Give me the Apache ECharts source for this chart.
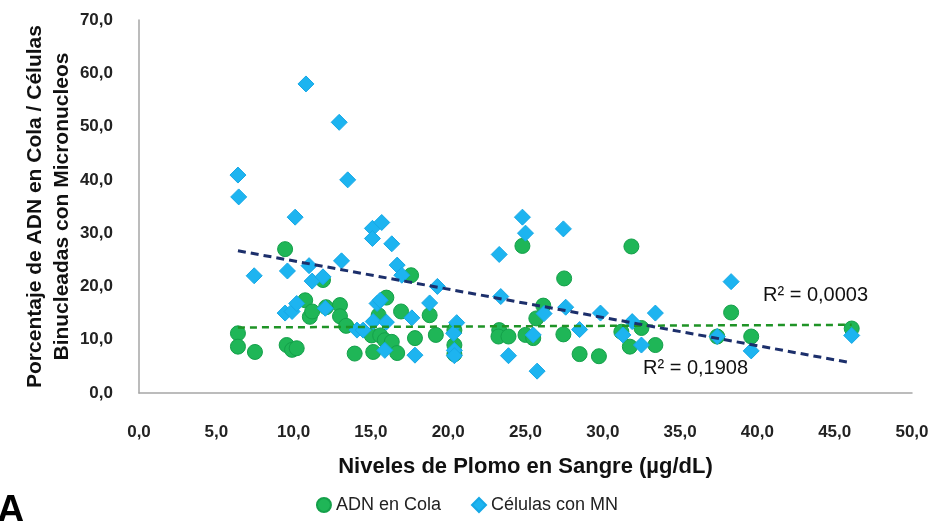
<!DOCTYPE html>
<html>
<head>
<meta charset="utf-8">
<script src="https://cdn.jsdelivr.net/npm/echarts@6/dist/echarts.min.js"></script>
<style>
html,body{margin:0;padding:0;background:#fff;}
#chart{width:934px;height:521px;}
</style>
</head>
<body>
<div id="chart"></div>
<script>
// ADN en Cola: [Pb level, %]
var adnX = [6.4,6.4,7.5,9.45,9.55,9.9,10.2,10.75,11.05,11.2,11.9,12.1,13.0,13.0,13.4,13.95,15.05,15.15,15.5,15.6,15.9,16.0,16.35,16.7,16.95,17.6,17.85,18.8,19.2,20.4,20.4,20.4,23.3,23.25,23.9,24.8,25.0,25.5,25.7,26.15,27.5,27.45,28.5,29.75,31.2,31.75,31.85,32.5,33.4,37.4,38.3,39.6,46.1];
var adnY = [11.2,8.7,7.7,27.0,9.0,8.1,8.4,17.4,14.3,15.3,21.2,16.1,16.5,14.4,12.6,7.4,10.8,7.7,14.6,10.8,9.9,17.9,9.6,7.5,15.3,22.1,10.3,14.6,10.9,11.8,9.0,7.3,11.8,10.6,10.6,27.6,10.9,10.3,14.0,16.4,21.5,11.0,7.3,6.9,11.5,8.7,27.5,12.2,9.0,10.6,15.1,10.6,12.1];
// Células con MN
var mnX = [6.4,6.45,7.45,9.45,9.6,9.9,10.1,10.2,10.8,11.0,11.2,11.9,12.05,12.95,13.1,13.5,14.1,14.5,15.1,15.1,15.15,15.4,15.6,15.7,15.9,16.0,16.35,16.7,17.0,17.65,17.85,18.8,19.3,20.55,20.35,20.4,20.4,23.3,23.4,23.9,24.8,25.0,25.5,25.75,26.2,27.45,27.6,28.5,29.85,31.3,31.9,32.5,33.4,37.4,38.3,39.6,46.1];
var mnY = [40.9,36.8,22.0,15.0,22.9,15.3,33.0,16.8,58.0,23.9,21.0,21.8,15.9,50.8,24.8,40.0,11.8,11.8,30.9,29.0,13.4,16.8,17.4,32.0,8.0,13.3,28.0,24.0,22.1,14.1,7.1,16.9,20.0,13.2,11.2,8.0,7.0,26.0,18.1,7.0,33.0,30.0,10.9,4.1,14.9,30.8,16.1,11.9,15.0,10.9,13.4,9.0,15.0,10.6,20.9,7.9,10.8];
// Trend lines (endpoints)
var trendMnX = [6.4, 46.0];
var trendMnY = [26.7, 5.7];
var trendAdnX = [6.4, 46.1];
var trendAdnY = [12.3, 12.8];
var xTicks = [0,5,10,15,20,25,30,35,40,45,50];
var yTicks = [0,10,20,30,40,50,60,70];
var seriesNames = ['ADN en Cola','Células con MN'];
var r2Labels = ['R² = 0,0003','R² = 0,1908'];

function zip(a,b){return a.map(function(v,i){return [v,b[i]];});}
var FONT = '"Liberation Sans", Arial, sans-serif';
var fmt = function(v){return v.toFixed(1).replace('.',',');};
var chart = echarts.init(document.getElementById('chart'));
chart.setOption({
  animation:false,
  backgroundColor:'#ffffff',
  grid:{left:139,right:22,top:20,bottom:128},
  xAxis:{
    type:'value',min:xTicks[0],max:xTicks[xTicks.length-1],interval:xTicks[1]-xTicks[0],
    axisLine:{show:true,lineStyle:{color:'#a6a6a6',width:1.5}},
    axisTick:{show:false},splitLine:{show:false},
    axisLabel:{margin:31,fontFamily:FONT,fontSize:17,fontWeight:'bold',color:'#222',formatter:fmt},
    name:'Niveles de Plomo en Sangre (µg/dL)',nameLocation:'middle',nameGap:63,nameMoveOverlap:false,
    nameTextStyle:{fontFamily:FONT,fontSize:22,fontWeight:'bold',color:'#111'}
  },
  yAxis:{
    type:'value',min:yTicks[0],max:yTicks[yTicks.length-1],interval:yTicks[1]-yTicks[0],
    axisLine:{show:true,lineStyle:{color:'#a6a6a6',width:1.5}},
    axisTick:{show:false},splitLine:{show:false},
    axisLabel:{margin:26,fontFamily:FONT,fontSize:17,fontWeight:'bold',color:'#222',formatter:fmt},
    name:'Porcentaje de ADN en Cola / Células\nBinucleadas con Micronucleos',nameLocation:'middle',nameGap:63,nameMoveOverlap:false,
    nameTextStyle:{fontFamily:FONT,fontSize:21,fontWeight:'bold',color:'#111',lineHeight:27}
  },
  legend:{
    bottom:2,left:'center',itemGap:30,itemWidth:14,itemHeight:14,
    textStyle:{fontFamily:FONT,fontSize:18,color:'#222'},
    data:[{name:seriesNames[0],icon:'circle'},{name:seriesNames[1],icon:'diamond'}]
  },
  series:[
    {name:seriesNames[0],type:'scatter',symbol:'circle',symbolSize:15,z:2,
     itemStyle:{color:'#1fb657',borderColor:'#14a04a',borderWidth:1,opacity:1},
     data:zip(adnX,adnY)},
    {name:seriesNames[1],type:'scatter',symbol:'diamond',symbolSize:16,z:3,
     itemStyle:{color:'#1db4f0',borderColor:'#16a8e6',borderWidth:1,opacity:1},
     data:zip(mnX,mnY)},
    {name:'trendAdn',type:'line',symbol:'none',z:5,silent:true,
     lineStyle:{color:'#1f9326',width:2.5,type:[7,5]},data:zip(trendAdnX,trendAdnY)},
    {name:'trendMn',type:'line',symbol:'none',z:5,silent:true,
     lineStyle:{color:'#1c2f6b',width:3,type:[8,5]},data:zip(trendMnX,trendMnY)}
  ],
  graphic:[
    {type:'text',left:763,top:285,style:{text:r2Labels[0],font:'20px '+FONT,fill:'#111'}},
    {type:'text',left:643,top:358,style:{text:r2Labels[1],font:'20px '+FONT,fill:'#111'}},
    {type:'text',left:-3,top:493,style:{text:'A',font:'bold 38px '+FONT,fill:'#000'}}
  ]
});
</script>
</body>
</html>
